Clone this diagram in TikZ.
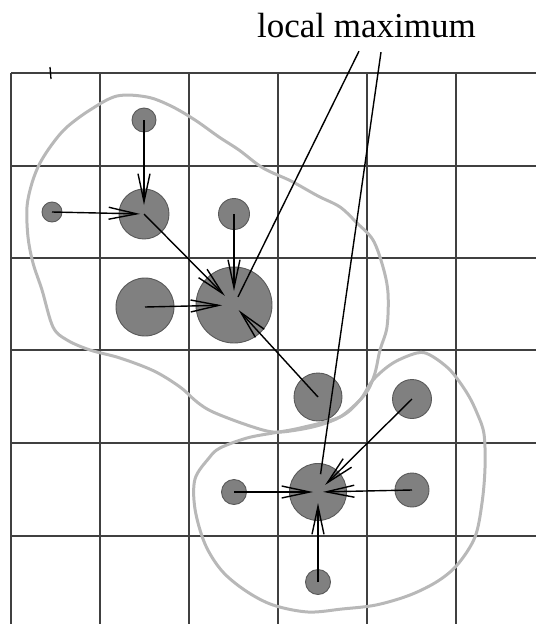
\documentclass[tikz,border=0pt]{standalone}
\usepackage{fontspec}
\setmainfont{Liberation Serif}
\newfontfamily\etichetta{Liberation Serif}
\usepackage{tikz}
\usetikzlibrary{arrows.meta, positioning, calc}

\begin{document}
\begin{tikzpicture}[x=1pt, y=-1pt,
		punto/.style={circle, draw=black!65, fill=black!50, line width=0.9pt, inner sep=0pt},
		freccia/.style={line width=1.4pt, -{Straight Barb[length=28pt, width=12pt]}},
		griglia/.style={draw=black!75, line width=1.3pt},
		bordo/.style={draw=black!28, line width=3pt}]
			\useasboundingbox (0,0) rectangle (536,624);
			% Griglia
			\foreach \x in {11,100,189,278,367,456}
				\draw[griglia] (\x,73) -- (\x,624);
			\foreach \y in {73,166,258,350,443,536}
				\draw[griglia] (11,\y) -- (536,\y);
			\draw[line width=1.3pt] (50,67) -- (51,79);
			% Contorni dei gruppi
			\draw[bordo] plot[smooth cycle, tension=0.55] coordinates {
				(117,96) (147,97) (171,106) (195,120) (219,137) (239,150) (263,168)
				(291,181) (318,196) (340,207) (357,223) (373,240) (383,267) (388,293)
				(387,327) (380,350) (375,373) (368,390) (357,403) (340,417) (320,425)
				(297,430) (273,432) (247,425) (213,412) (197,402) (180,387) (154,371)
				(120,358) (90,350) (67,340) (53,327) (42,290) (33,263) (28,237)
				(27,207) (32,183) (40,163) (53,143) (67,127) (90,110)};
			\draw[bordo] plot[smooth cycle, tension=0.55] coordinates {
				(273,433) (300,428) (340,417) (360,400) (373,380) (393,363) (417,353)
				(430,355) (450,370) (467,393) (477,413) (484,434) (485,468) (482,503)
				(475,537) (458,564) (438,581) (410,595) (376,605) (342,609) (308,612)
				(273,605) (246,591) (222,571) (205,544) (195,509) (195,479) (209,458)
				(220,448) (247,438)};
			% Primo gruppo
			\node[punto, minimum size=24pt] (A) at (144,120) {};
			\node[punto, minimum size=20pt] (B) at (52,212) {};
			\node[punto, minimum size=50pt] (C) at (144,214) {};
			\node[punto, minimum size=31pt] (D) at (234,214) {};
			\node[punto, minimum size=58pt] (E) at (145,307) {};
			\node[punto, minimum size=76pt] (M1) at (234,305) {};
			\node[punto, minimum size=48pt] (F) at (318,397) {};
			% Secondo gruppo
			\node[punto, minimum size=39pt] (G) at (412,399) {};
			\node[punto, minimum size=57pt] (M2) at (318,492) {};
			\node[punto, minimum size=25pt] (H) at (234,492) {};
			\node[punto, minimum size=34pt] (I) at (412,490) {};
			\node[punto, minimum size=25pt] (J) at (318,582) {};
			% Frecce
			\draw[freccia, shorten >=9pt] (A.center) -- (C.center);
			\draw[freccia, shorten >=4pt] (B.center) -- (C.center);
			\draw[freccia, shorten >=13pt] (C.center) -- (M1.center);
			\draw[freccia, shorten >=14pt] (D.center) -- (M1.center);
			\draw[freccia, shorten >=12pt] (E.center) -- (M1.center);
			\draw[freccia, shorten >=7pt] (F.center) -- (M1.center);
			\draw[freccia, shorten >=10pt] (G.center) -- (M2.center);
			\draw[freccia, shorten >=5pt] (H.center) -- (M2.center);
			\draw[freccia, shorten >=5pt] (I.center) -- (M2.center);
			\draw[freccia, shorten >=11pt] (J.center) -- (M2.center);
			% Etichetta
			\node[anchor=base, inner sep=0pt, font=\etichetta\fontsize{35}{40}\selectfont] (lab) at (366.5,37.6) {local maximum};
			\draw[line width=1.4pt, shorten >=9pt] ([xshift=-7.5pt, yshift=-13pt]lab.south) -- (M1.center);
			\draw[line width=1.4pt, shorten >=18pt] ([xshift=14.5pt, yshift=-14pt]lab.south) -- (M2.center);
		\end{tikzpicture}
\end{document}
